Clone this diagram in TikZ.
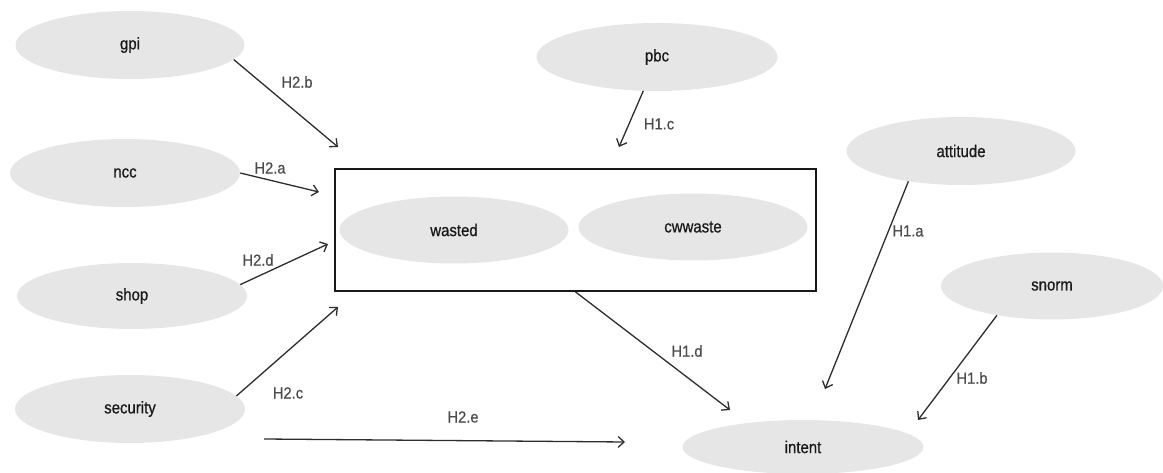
\documentclass[tikz,border=0pt]{standalone}
\usepackage{fontspec}
\setmainfont{Liberation Sans}
\newfontfamily\nodefont{Liberation Sans}[FakeStretch=0.88, FakeBold=0.7]
\newfontfamily\lblfont{Liberation Sans}[FakeStretch=0.92, FakeBold=0.5]
\usetikzlibrary{shapes.geometric,arrows.meta}
\definecolor{ellfill}{RGB}{230,230,230}
\definecolor{txt}{RGB}{25,25,25}
\definecolor{lbl}{RGB}{75,75,75}
\definecolor{edge}{RGB}{45,45,45}
\tikzset{
  var/.style={ellipse, fill=ellfill, draw=none, inner sep=0pt, text=txt,
    font=\nodefont\fontsize{17}{20}\selectfont},
  hyp/.style={text=lbl, inner sep=0pt, font=\lblfont\fontsize{16}{19}\selectfont},
  conn/.style={draw=edge, line width=1.3pt, -{Straight Barb[length=6pt,width=11pt,line width=1.3pt]}},
  groupbox/.style={draw=txt, line width=1.8pt, inner sep=0pt}
}
\begin{document}
\begin{tikzpicture}[x=1pt,y=-1pt]
\useasboundingbox (0,0) rectangle (1163,473);
% nodes
\node[var, minimum width=229pt, minimum height=68pt] (gpi) at (130,45) {gpi};
\node[var, minimum width=230pt, minimum height=68pt] (ncc) at (125,173) {ncc};
\node[var, minimum width=230pt, minimum height=66pt] (shop) at (132,296) {shop};
\node[var, minimum width=230pt, minimum height=68pt] (security) at (130,409) {security};
\node[var, minimum width=241pt, minimum height=68pt] (pbc) at (657,57) {pbc};
\node[var, minimum width=229pt, minimum height=68pt] (attitude) at (961,151) {attitude};
\node[var, minimum width=222pt, minimum height=67pt] (snorm) at (1052,286) {snorm};
\node[var, minimum width=241pt, minimum height=54pt] (intent) at (803,447) {intent};
\node[groupbox, minimum width=481pt, minimum height=122pt] (box) at (575.5,230) {};
\node[var, minimum width=229pt, minimum height=67pt] (wasted) at (454,230) {wasted};
\node[var, minimum width=229pt, minimum height=67pt] (cwwaste) at (693,227) {cwwaste};
% free ends
\coordinate (tgpi) at (338,147);
\coordinate (tncc) at (319,192);
\coordinate (tshop) at (328,244);
\coordinate (tsec) at (338,307);
\coordinate (tpbc) at (619,147);
\coordinate (th1d) at (730,410);
\coordinate (tatt) at (825,389);
\coordinate (tsnorm) at (918,420);
\coordinate (e1) at (264,439);
\coordinate (e2) at (625,442);
% connectors
\draw[conn] (gpi.-8) -- (tgpi);
\draw[conn] (ncc.0) -- (tncc);
\draw[conn] (shop.6) -- (tshop);
\draw[conn] (security.7.5) -- (tsec);
\draw[conn] (e1) -- (e2);
\draw[conn] (pbc.-112) -- (tpbc);
\draw[conn] (box.south) -- (th1d);
\draw[conn] (attitude.-150) -- (tatt);
\draw[conn] (snorm.-152) -- (tsnorm);
% labels
\node[hyp] (l2b) at (297,82) {H2.b};
\node[hyp] (l2a) at (270,168) {H2.a};
\node[hyp] (l2d) at (258,260) {H2.d};
\node[hyp] (l2c) at (288,393) {H2.c};
\node[hyp] (l2e) at (463,417) {H2.e};
\node[hyp] (l1c) at (659,124) {H1.c};
\node[hyp] (l1d) at (687,351) {H1.d};
\node[hyp] (l1a) at (908,231) {H1.a};
\node[hyp] (l1b) at (972,378) {H1.b};
\end{tikzpicture}
\end{document}
